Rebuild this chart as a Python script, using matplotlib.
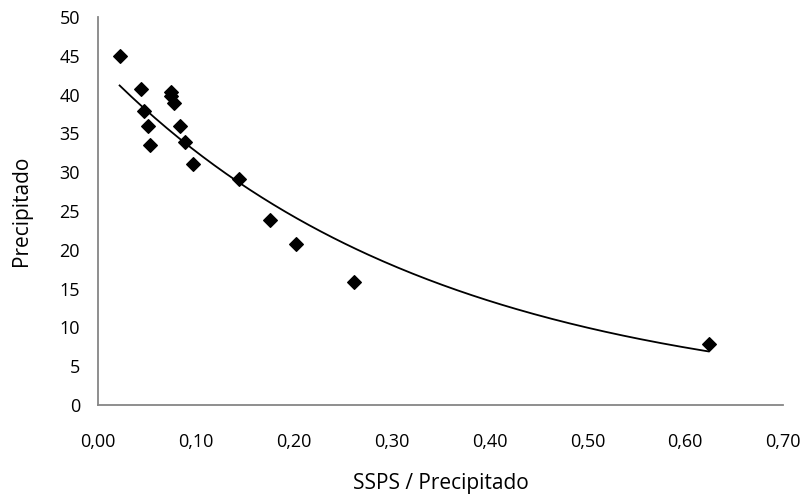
import numpy as np
import matplotlib
matplotlib.use('Agg')
from matplotlib import pyplot as plt
from matplotlib.ticker import FuncFormatter

plt.rcParams['font.family'] = ['Open Sans', 'DejaVu Sans']

# datos
ssps = [0.022, 0.044, 0.047, 0.051, 0.053, 0.074, 0.075, 0.078, 0.084, 0.089,
        0.097, 0.144, 0.176, 0.202, 0.262, 0.624]
precipitado = [45.0, 40.7, 37.9, 35.9, 33.5, 40.4, 39.8, 38.9, 35.9, 33.9,
               31.1, 29.1, 23.9, 20.7, 15.9, 7.9]

x = np.array(ssps)
y = np.array(precipitado)

# linea de tendencia exponencial (como Excel)
b, lna = np.polyfit(x, np.log(y), 1)
xf = np.linspace(x.min(), x.max(), 200)
yf = np.exp(lna) * np.exp(b * xf)

fig = plt.figure(figsize=(8.04, 5.03), dpi=100)
ax = fig.add_axes([0.122, 0.195, 0.852, 0.771])

ax.plot(xf, yf, color='black', lw=1.3)
ax.scatter(x, y, marker='D', s=48, color='black', zorder=3)

ax.set_xlim(0, 0.70)
ax.set_ylim(0, 50)
ax.set_xticks(np.arange(0, 0.71, 0.10))
ax.set_yticks(np.arange(0, 51, 5))
ax.xaxis.set_major_formatter(FuncFormatter(lambda v, p: ('%.2f' % v).replace('.', ',')))
ax.tick_params(length=0, labelsize=13)
ax.tick_params(axis='x', pad=20)
ax.tick_params(axis='y', pad=13)

for s in ['top', 'right']:
    ax.spines[s].set_visible(False)
for s in ['left', 'bottom']:
    ax.spines[s].set_color('#868686')
    ax.spines[s].set_linewidth(1.3)

ax.set_xlabel('SSPS / Precipitado', fontsize=15, labelpad=16)
ax.set_ylabel('Precipitado', fontsize=15, labelpad=20)

plt.savefig('out.png', dpi=100)
